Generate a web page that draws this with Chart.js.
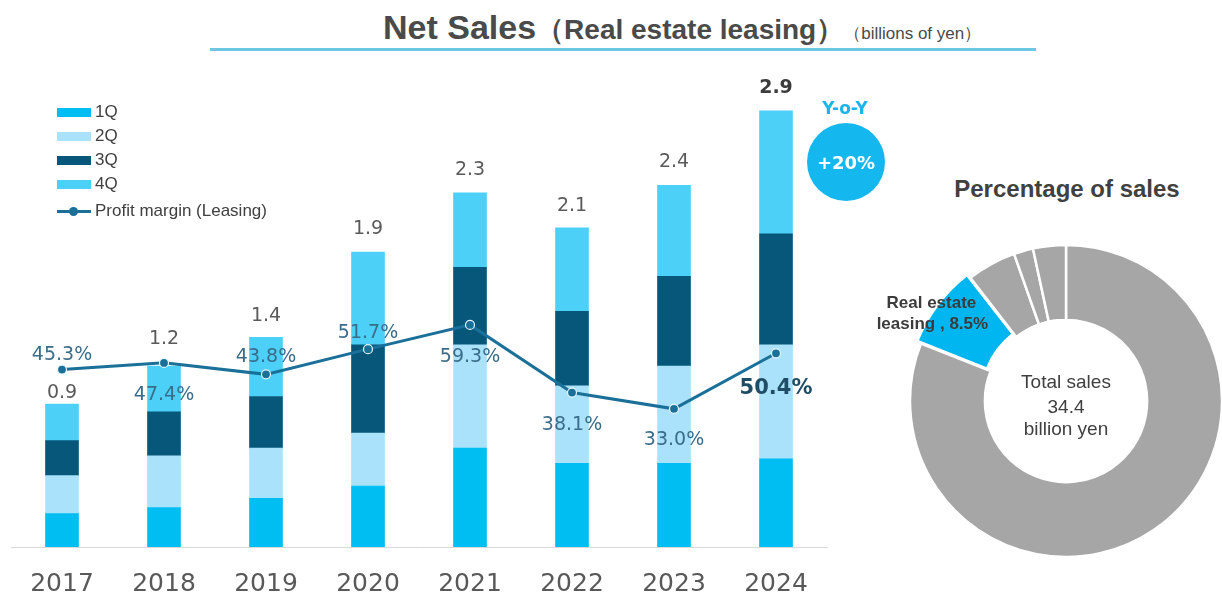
<!DOCTYPE html>
<html>
<head>
<meta charset="utf-8">
<title>Net Sales (Real estate leasing)</title>
<script src="https://cdn.jsdelivr.net/npm/chart.js@4.4.1/dist/chart.umd.min.js"></script>
<style>
  html, body { margin: 0; padding: 0; background: #fff; width: 1222px; height: 597px; overflow: hidden; }
  body { position: relative; font-family: "Liberation Sans", Arial, sans-serif; color: #404040; }
  canvas { position: absolute; }
  #salesChart { left: 0; top: 0; }
  #shareChart { left: 860px; top: 160px; }
  .title { position: absolute; left: 383px; top: 8px; white-space: nowrap; font-weight: bold; color: #4a4a4a; }
  .title .main { font-size: 34px; }
  .title .sub { font-size: 28px; }
  .title .unit { font-size: 17px; font-weight: normal; }
  .rule { position: absolute; left: 210px; top: 48px; width: 826px; height: 3px; background: #6cc7e3; }
  #legend { position: absolute; left: 57px; top: 100px; font-size: 17px; color: #404040; }
  #legend .item { display: flex; align-items: center; height: 24px; }
  #legend .item.line { margin-top: 3px; }
  #legend .swatch { width: 34px; height: 9px; margin-right: 4px; position: relative; }
  #legend .swatch .stroke { position: absolute; left: 0; right: 0; top: 3px; height: 3px; }
  #legend .swatch .dot { position: absolute; left: 12px; top: 0; width: 9px; height: 9px; border-radius: 50%; }
  .yoy { position: absolute; left: 805px; top: 98px; width: 80px; text-align: center; font: bold 17px "DejaVu Sans", sans-serif; color: #1cb4ea; }
  .badge { position: absolute; left: 807px; top: 123px; width: 78px; height: 78px; border-radius: 50%; background: #14b7ee;
           color: #fff; font: bold 18px "DejaVu Sans", sans-serif; display: flex; align-items: center; justify-content: center; }
  .pie-title { position: absolute; left: 917px; top: 175px; width: 300px; text-align: center; font-size: 24px; font-weight: bold; color: #404040; }
</style>
</head>
<body>
<div class="title"><span class="main">Net Sales</span><span class="sub">（Real estate leasing）</span><span class="unit">（billions of yen）</span></div>
<div class="rule"></div>
<canvas id="salesChart" width="845" height="597"></canvas>
<div id="legend"></div>
<div class="yoy">Y-o-Y</div>
<div class="badge">+20%</div>
<div class="pie-title">Percentage of sales</div>
<canvas id="shareChart" width="362" height="437"></canvas>

<script>
// quarterly leasing sales, billions of yen
const years = ['2017', '2018', '2019', '2020', '2021', '2022', '2023', '2024'];
const q1 = [0.22, 0.26, 0.32, 0.40, 0.65, 0.55, 0.55, 0.58];
const q2 = [0.25, 0.34, 0.33, 0.35, 0.68, 0.51, 0.64, 0.75];
const q3 = [0.23, 0.29, 0.34, 0.58, 0.51, 0.49, 0.59, 0.73];
const q4 = [0.24, 0.30, 0.39, 0.61, 0.49, 0.55, 0.60, 0.81];
// profit margin of the leasing segment, %
const profitMargin = [45.3, 47.4, 43.8, 51.7, 59.3, 38.1, 33.0, 50.4];

// share of total sales, %
const segments = ['Main business', 'Real estate leasing', 'Other A', 'Other B', 'Other C'];
const shareValues = [81.0, 8.5, 5.1, 2.0, 3.4];
const totalSales = 34.4;

const quarterColors = ['#00bdf2', '#a9e2fa', '#06577a', '#4dd0f8'];
const lineColor = '#1b7099';

// label placement: gap above the stack, offset of the margin label from its point
const totalGap = [11, 27, 21, 23, 23, 22, 23, 23];
const marginDy = [-15, 32, -17, -16, 32, 33, 31, 35];

const valueLabels = {
  id: 'valueLabels',
  afterDatasetsDraw(chart) {
    const ctx = chart.ctx;
    const topMeta = chart.getDatasetMeta(3);
    const lineMeta = chart.getDatasetMeta(4);
    const last = years.length - 1;
    ctx.save();
    ctx.textAlign = 'center';
    ctx.textBaseline = 'middle';
    years.forEach((yr, i) => {
      const bar = topMeta.data[i];
      const total = q1[i] + q2[i] + q3[i] + q4[i];
      ctx.font = (i === last ? 'bold ' : '') + '19px "DejaVu Sans"';
      ctx.fillStyle = i === last ? '#3c3c3c' : '#5a5a5a';
      ctx.fillText(total.toFixed(1), bar.x, bar.y - totalGap[i]);

      const pt = lineMeta.data[i];
      ctx.font = i === last ? 'bold 21px "DejaVu Sans"' : '19px "DejaVu Sans"';
      ctx.fillStyle = i === last ? '#1f4d66' : '#3a6d8a';
      ctx.fillText(profitMargin[i].toFixed(1) + '%', pt.x, pt.y + marginDy[i]);
    });
    ctx.restore();
  }
};

const quarterSet = (label, data, color) => ({
  type: 'bar', label, data, backgroundColor: color, yAxisID: 'y', order: 1,
  barThickness: 33
});

const salesChart = new Chart(document.getElementById('salesChart'), {
  data: {
    labels: years,
    datasets: [
      quarterSet('1Q', q1, quarterColors[0]),
      quarterSet('2Q', q2, quarterColors[1]),
      quarterSet('3Q', q3, quarterColors[2]),
      quarterSet('4Q', q4, quarterColors[3]),
      {
        type: 'line', label: 'Profit margin (Leasing)', data: profitMargin, yAxisID: 'y1', order: 0,
        borderColor: lineColor, borderWidth: 3, tension: 0,
        pointRadius: 4.5, pointBackgroundColor: lineColor, pointBorderColor: '#e6f6fc', pointBorderWidth: 1.2
      }
    ]
  },
  options: {
    responsive: false,
    animation: false,
    layout: { padding: { left: 11, right: 18, top: 91, bottom: 0 } },
    plugins: { legend: { display: false }, tooltip: { enabled: false } },
    scales: {
      x: {
        stacked: true,
        grid: { display: false, drawTicks: false },
        border: { display: true, color: '#d9d9d9', width: 1 },
        ticks: { color: '#595959', padding: 22, font: { family: 'DejaVu Sans', size: 25 } },
        afterFit(scale) { scale.height = 50; }
      },
      y: { stacked: true, display: false, min: 0, max: 3 },
      y1: { display: false, min: -10.3, max: 132.6 }
    }
  },
  plugins: [valueLabels]
});

// legend built from the chart's own datasets
const legend = document.getElementById('legend');
salesChart.data.datasets.forEach(ds => {
  const item = document.createElement('div');
  item.className = 'item' + (ds.type === 'line' ? ' line' : '');
  const sw = document.createElement('div');
  sw.className = 'swatch';
  if (ds.type === 'line') {
    sw.innerHTML = '<div class="stroke" style="background:' + ds.borderColor + '"></div>' +
                   '<div class="dot" style="background:' + ds.borderColor + '"></div>';
  } else {
    sw.style.background = ds.backgroundColor;
  }
  item.appendChild(sw);
  item.appendChild(document.createTextNode(ds.label));
  legend.appendChild(item);
});

const shareLabels = {
  id: 'shareLabels',
  afterDraw(chart) {
    const ctx = chart.ctx;
    const arc = chart.getDatasetMeta(0).data[1];
    ctx.save();
    ctx.textAlign = 'center';
    ctx.textBaseline = 'middle';
    ctx.fillStyle = '#404040';
    ctx.font = '19px "Liberation Sans"';
    ctx.fillText('Total sales', arc.x, arc.y - 18);
    ctx.fillText(totalSales.toFixed(1), arc.x, arc.y + 7);
    ctx.fillText('billion yen', arc.x, arc.y + 29);

    const p = arc.tooltipPosition();
    ctx.font = 'bold 17px "Liberation Sans"';
    ctx.fillStyle = '#3c3c3c';
    ctx.fillText('Real estate', p.x - 35, p.y - 23);
    ctx.fillText('leasing , ' + shareValues[1].toFixed(1) + '%', p.x - 34, p.y - 2);
    ctx.restore();
  }
};

new Chart(document.getElementById('shareChart'), {
  type: 'doughnut',
  data: {
    labels: segments,
    datasets: [{
      data: shareValues,
      backgroundColor: ['#a6a6a6', '#00b6f0', '#a6a6a6', '#a6a6a6', '#a6a6a6'],
      borderColor: '#ffffff',
      borderWidth: 2.5,
      offset: [0, 12, 0, 0, 0]
    }]
  },
  options: {
    responsive: false,
    animation: false,
    radius: 156,
    cutout: '52%',
    layout: { padding: { left: 50, top: 45 } },
    plugins: { legend: { display: false }, tooltip: { enabled: false } }
  },
  plugins: [shareLabels]
});
</script>
</body>
</html>
